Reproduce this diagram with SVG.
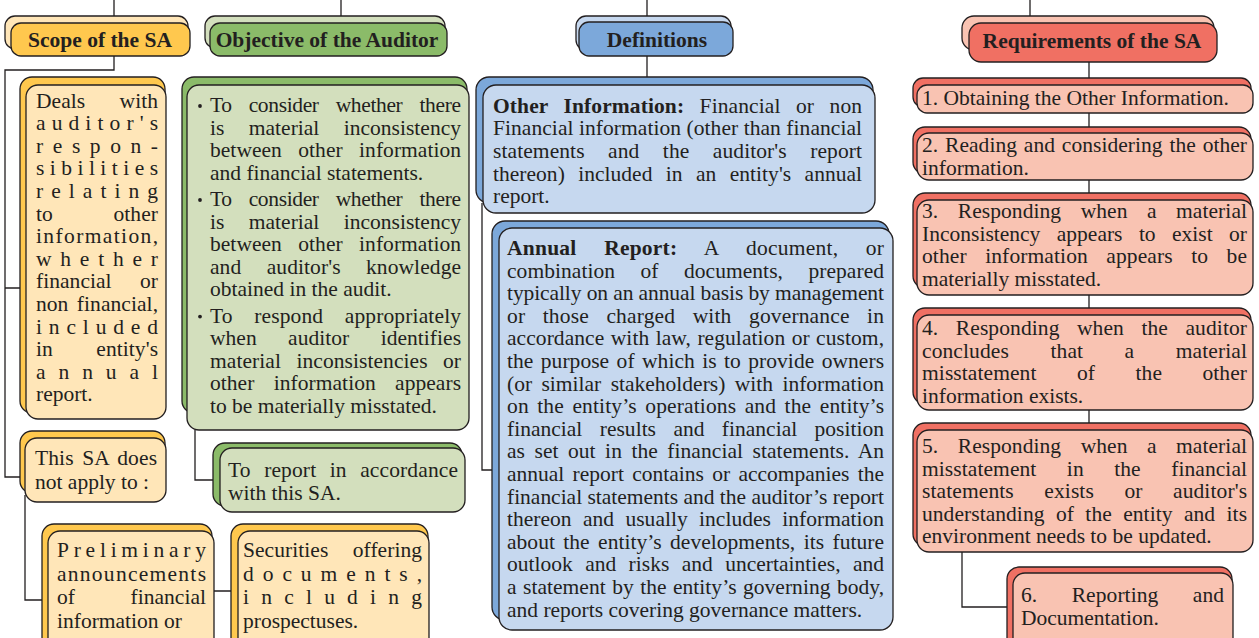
<svg xmlns="http://www.w3.org/2000/svg" width="1259" height="638" viewBox="0 0 1259 638">
<style>
rect{stroke:#231F20;stroke-width:1.3}
.t{font-family:"Liberation Serif","Times New Roman",serif;font-size:21.5px;fill:#231F20}
.h{font-family:"Liberation Serif","Times New Roman",serif;font-size:21.5px;font-weight:bold;fill:#231F20;text-anchor:middle}
.b{font-weight:bold}
.yD{fill:#FFC84E}.yL{fill:#FFE6B8}
.gD{fill:#8BBB69}.gL{fill:#D3DFBD}
.bD{fill:#7CA8DA}.bL{fill:#C6D8EF}
.rD{fill:#F07063}.rL{fill:#F9C3B2}
.c{fill:none;stroke:#231F20;stroke-width:1.3}
</style>
<g id="connectors">
<path class="c" d="M114,0V16M341,0V16M647,0V16M1030,0V16"/>
<path class="c" d="M114,56V70H5V477H20M5,288H20"/>
<path class="c" d="M25,495V600H42M212,591H231"/>
<path class="c" d="M195,430V480H213"/>
<path class="c" d="M647,56V77M482,203V470H492"/>
<path class="c" d="M1089,62V78M1089,113V127M1089,180V193M1089,295V308M1089,410V423M962,552V607H1007"/>
</g>
<g id="scope-header">
<rect class="yL" x="5" y="16" width="183" height="33" rx="10"/>
<rect class="yD" x="11" y="23" width="179" height="33" rx="10"/>
<text class="h" x="100" y="47">Scope of the SA</text>
</g>
<g id="objective-header">
<rect class="gL" x="205" y="16" width="240" height="32" rx="10"/>
<rect class="gD" x="210" y="23" width="237" height="33" rx="10"/>
<text class="h" x="327" y="47">Objective of the Auditor</text>
</g>
<g id="definitions-header">
<rect class="bL" x="576" y="16" width="155" height="34" rx="10"/>
<rect class="bD" x="579" y="22" width="154" height="34" rx="10"/>
<text class="h" x="657" y="47">Definitions</text>
</g>
<g id="requirements-header">
<rect class="rL" x="962" y="16" width="252" height="34" rx="12"/>
<rect class="rD" x="969" y="23" width="248" height="39" rx="12"/>
<text class="h" x="1092" y="48">Requirements of the SA</text>
</g>
<g id="scope-deals">
<rect class="yD" x="20" y="77" width="145" height="336" rx="12"/>
<rect class="yL" x="26" y="85" width="140" height="334" rx="12"/>
<text class="t" x="36" y="107.5" textLength="122" word-spacing="29">Deals with</text>
<text class="t" x="36" y="130.1" textLength="122">auditor's</text>
<text class="t" x="36" y="152.7" textLength="122">respon-</text>
<text class="t" x="36" y="175.3" textLength="122">sibilities</text>
<text class="t" x="36" y="197.9" textLength="122">relating</text>
<text class="t" x="36" y="220.5" textLength="122" word-spacing="55">to other</text>
<text class="t" x="36" y="243.1" textLength="122">information,</text>
<text class="t" x="36" y="265.7" textLength="122">whether</text>
<text class="t" x="36" y="288.3" textLength="122" word-spacing="23">financial or</text>
<text class="t" x="36" y="310.9" textLength="122" word-spacing="3">non financial,</text>
<text class="t" x="36" y="333.5" textLength="122">included</text>
<text class="t" x="36" y="356.1" textLength="122" word-spacing="38">in entity's</text>
<text class="t" x="36" y="378.7" textLength="122">annual</text>
<text class="t" x="36" y="401.3">report.</text>
</g>
<g id="scope-not-apply">
<rect class="yD" x="20" y="431" width="145" height="62" rx="12"/>
<rect class="yL" x="25" y="438" width="141" height="64" rx="12"/>
<text class="t" x="35" y="465" textLength="122" word-spacing="3">This SA does</text>
<text class="t" x="35" y="489">not apply to :</text>
</g>
<g id="scope-preliminary">
<rect class="yD" x="42" y="524" width="170" height="125" rx="12"/>
<rect class="yL" x="48" y="531" width="166" height="125" rx="12"/>
<text class="t" x="57" y="557" textLength="149">Preliminary</text>
<text class="t" x="57" y="580.5" textLength="149">announcements</text>
<text class="t" x="57" y="604" textLength="149" word-spacing="50">of financial</text>
<text class="t" x="57" y="627.5">information or</text>
</g>
<g id="scope-securities">
<rect class="yD" x="231" y="524" width="197" height="125" rx="12"/>
<rect class="yL" x="238" y="531" width="191" height="125" rx="12"/>
<text class="t" x="243" y="557" textLength="179" word-spacing="19">Securities offering</text>
<text class="t" x="243" y="580.5" textLength="179">documents,</text>
<text class="t" x="243" y="604" textLength="179">including</text>
<text class="t" x="243" y="627.5">prospectuses.</text>
</g>
<g id="objective-list">
<rect class="gD" x="182" y="77" width="285" height="336" rx="12"/>
<rect class="gL" x="187" y="85" width="282" height="345" rx="12"/>
<circle cx="200" cy="106" r="1.9" fill="#231F20"/>
<circle cx="200" cy="200" r="1.9" fill="#231F20"/>
<circle cx="200" cy="316.6" r="1.9" fill="#231F20"/>
<text class="t" x="210" y="112" textLength="251" word-spacing="12">To consider whether there</text>
<text class="t" x="210" y="134.6" textLength="251" word-spacing="19">is material inconsistency</text>
<text class="t" x="210" y="157.2" textLength="251" word-spacing="11">between other information</text>
<text class="t" x="210" y="179.8">and financial statements.</text>
<text class="t" x="210" y="206" textLength="251" word-spacing="12">To consider whether there</text>
<text class="t" x="210" y="228.6" textLength="251" word-spacing="19">is material inconsistency</text>
<text class="t" x="210" y="251.2" textLength="251" word-spacing="11">between other information</text>
<text class="t" x="210" y="273.8" textLength="251" word-spacing="20">and auditor's knowledge</text>
<text class="t" x="210" y="296.4">obtained in  the audit.</text>
<text class="t" x="210" y="322.6" textLength="251" word-spacing="16">To respond appropriately</text>
<text class="t" x="210" y="345.2" textLength="251" word-spacing="26">when auditor identifies</text>
<text class="t" x="210" y="367.8" textLength="251" word-spacing="10">material inconsistencies or</text>
<text class="t" x="210" y="390.4" textLength="251" word-spacing="14">other information appears</text>
<text class="t" x="210" y="413">to be materially misstated.</text>
</g>
<g id="objective-report">
<rect class="gD" x="213" y="443" width="249" height="63" rx="12"/>
<rect class="gL" x="220" y="448" width="245" height="64" rx="12"/>
<text class="t" x="228" y="477" textLength="230" word-spacing="8">To report in accordance</text>
<text class="t" x="228" y="500">with this SA.</text>
</g>
<g id="def-other-info">
<rect class="bD" x="476" y="77" width="397" height="126" rx="13"/>
<rect class="bL" x="483" y="85" width="392" height="128" rx="13"/>
<text class="t" x="493" y="112.7" textLength="369" word-spacing="10"><tspan class="b">Other Information:</tspan> Financial or non</text>
<text class="t" x="493" y="135.3" textLength="369">Financial information (other than financial</text>
<text class="t" x="493" y="157.9" textLength="369" word-spacing="18">statements and the auditor's report</text>
<text class="t" x="493" y="180.5" textLength="369" word-spacing="8">thereon) included in an entity's annual</text>
<text class="t" x="493" y="203.1">report.</text>
</g>
<g id="def-annual-report">
<rect class="bD" x="492" y="221" width="397" height="399" rx="13"/>
<rect class="bL" x="499" y="228" width="394" height="402" rx="13"/>
<text class="t" x="507" y="255" textLength="377" word-spacing="22"><tspan class="b">Annual Report:</tspan> A document, or</text>
<text class="t" x="507" y="277.6" textLength="377" word-spacing="20">combination of documents, prepared</text>
<text class="t" x="507" y="300.2" textLength="377">typically on an annual basis by management</text>
<text class="t" x="507" y="322.8" textLength="377" word-spacing="12">or those charged with governance in</text>
<text class="t" x="507" y="345.4" textLength="377" word-spacing="1">accordance with law, regulation or custom,</text>
<text class="t" x="507" y="368" textLength="377" word-spacing="2">the purpose of which is to provide owners</text>
<text class="t" x="507" y="390.6" textLength="377" word-spacing="4">(or similar stakeholders) with information</text>
<text class="t" x="507" y="413.2" textLength="377" word-spacing="3">on the entity’s operations and the entity’s</text>
<text class="t" x="507" y="435.8" textLength="377" word-spacing="12">financial results and financial position</text>
<text class="t" x="507" y="458.4" textLength="377" word-spacing="4">as set out in the financial statements. An</text>
<text class="t" x="507" y="481" textLength="377" word-spacing="3">annual report contains or accompanies the</text>
<text class="t" x="507" y="503.6" textLength="377">financial statements and the auditor’s report</text>
<text class="t" x="507" y="526.2" textLength="377" word-spacing="6">thereon and usually includes information</text>
<text class="t" x="507" y="548.8" textLength="377" word-spacing="3">about the entity’s developments, its future</text>
<text class="t" x="507" y="571.4" textLength="377" word-spacing="7">outlook and risks and uncertainties, and</text>
<text class="t" x="507" y="594" textLength="377" word-spacing="1">a statement by the entity’s governing body,</text>
<text class="t" x="507" y="616.6">and reports covering governance matters.</text>
</g>
<g id="req-1">
<rect class="rD" x="913" y="78" width="338" height="29" rx="10"/>
<rect class="rL" x="917" y="85" width="336" height="28" rx="10"/>
<text class="t" x="922" y="105">1. Obtaining the Other Information.</text>
</g>
<g id="req-2">
<rect class="rD" x="913" y="127" width="338" height="47" rx="12"/>
<rect class="rL" x="917" y="133" width="336" height="47" rx="12"/>
<text class="t" x="922" y="152" textLength="325" word-spacing="1.5">2. Reading and considering the other</text>
<text class="t" x="922" y="175">information.</text>
</g>
<g id="req-3">
<rect class="rD" x="913" y="193" width="338" height="95" rx="12"/>
<rect class="rL" x="917" y="200" width="336" height="95" rx="12"/>
<text class="t" x="922" y="218" textLength="325" word-spacing="14">3. Responding when a material</text>
<text class="t" x="922" y="241" textLength="325" word-spacing="11">Inconsistency appears to exist or</text>
<text class="t" x="922" y="263" textLength="325" word-spacing="13">other information appears to be</text>
<text class="t" x="922" y="286">materially misstated.</text>
</g>
<g id="req-4">
<rect class="rD" x="913" y="308" width="338" height="96" rx="12"/>
<rect class="rL" x="917" y="315" width="336" height="95" rx="12"/>
<text class="t" x="922" y="335" textLength="325" word-spacing="12">4. Responding when the auditor</text>
<text class="t" x="922" y="358" textLength="325" word-spacing="36">concludes that a material</text>
<text class="t" x="922" y="380" textLength="325" word-spacing="35">misstatement of the other</text>
<text class="t" x="922" y="403">information exists.</text>
</g>
<g id="req-5">
<rect class="rD" x="913" y="423" width="338" height="123" rx="12"/>
<rect class="rL" x="917" y="430" width="336" height="122" rx="12"/>
<text class="t" x="922" y="453" textLength="325" word-spacing="14">5. Responding when a material</text>
<text class="t" x="922" y="476" textLength="325" word-spacing="25">misstatement in the financial</text>
<text class="t" x="922" y="498" textLength="325" word-spacing="25">statements exists or auditor's</text>
<text class="t" x="922" y="521" textLength="325" word-spacing="6">understanding of the entity and its</text>
<text class="t" x="922" y="543">environment needs to be updated.</text>
</g>
<g id="req-6">
<rect class="rD" x="1007" y="567" width="225" height="85" rx="12"/>
<rect class="rL" x="1013" y="573" width="220" height="85" rx="12"/>
<text class="t" x="1021" y="602" textLength="203" word-spacing="29">6. Reporting and</text>
<text class="t" x="1021" y="625">Documentation.</text>
</g>
</svg>
